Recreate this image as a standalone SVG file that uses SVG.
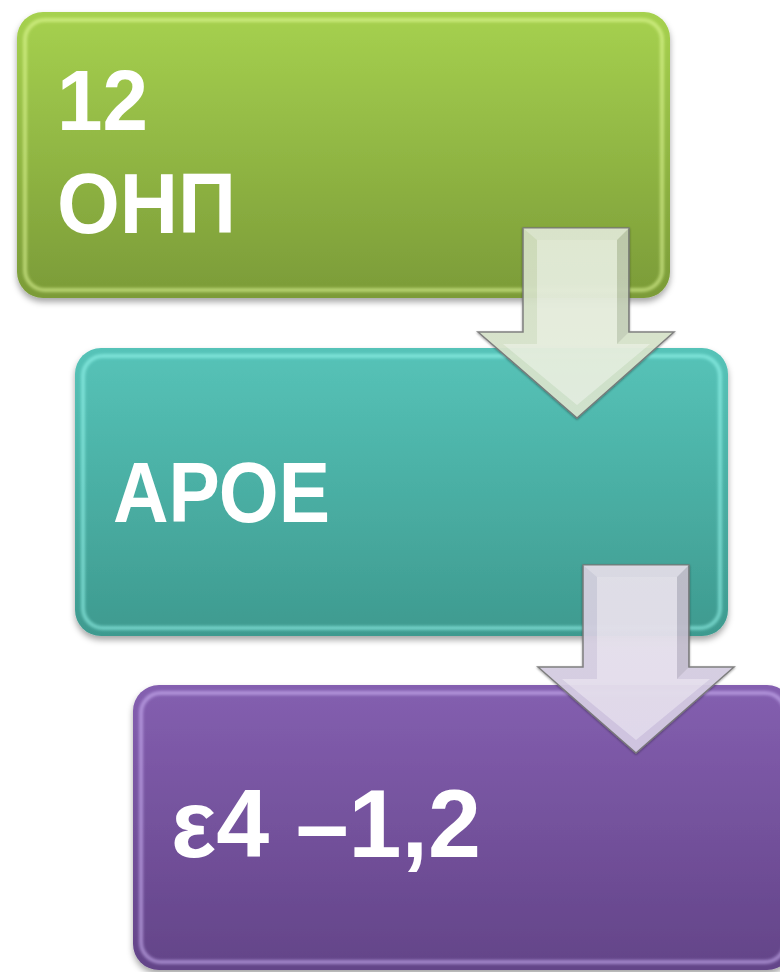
<svg xmlns="http://www.w3.org/2000/svg" width="780" height="972" viewBox="0 0 780 972">
<defs>
<linearGradient id="gGreen" x1="0" y1="0" x2="0" y2="1">
<stop offset="0" stop-color="#a6d14f"/><stop offset="1" stop-color="#7b9b38"/>
</linearGradient>
<linearGradient id="gTeal" x1="0" y1="0" x2="0" y2="1">
<stop offset="0" stop-color="#56c3b8"/><stop offset="1" stop-color="#3e9a8f"/>
</linearGradient>
<linearGradient id="gPurple" x1="0" y1="0" x2="0" y2="1">
<stop offset="0" stop-color="#845fb0"/><stop offset="1" stop-color="#634488"/>
</linearGradient>
<linearGradient id="aGreen" x1="0" y1="0" x2="0" y2="1">
<stop offset="0" stop-color="#d4e0c2"/><stop offset="1" stop-color="#dbe8d2"/>
</linearGradient>
<linearGradient id="aPurple" x1="0" y1="0" x2="0" y2="1">
<stop offset="0" stop-color="#d7d3e0"/><stop offset="1" stop-color="#d6cce6"/>
</linearGradient>
<filter id="shadow" x="-10%" y="-10%" width="120%" height="125%">
<feDropShadow dx="0" dy="4" stdDeviation="3" flood-color="#000" flood-opacity="0.35"/>
</filter>
<filter id="soft" x="-5%" y="-5%" width="110%" height="110%">
<feGaussianBlur stdDeviation="1.5"/>
</filter>
<filter id="ashadow" x="-20%" y="-20%" width="140%" height="140%">
<feDropShadow dx="0" dy="1" stdDeviation="1" flood-color="#000" flood-opacity="0.4"/>
</filter>
</defs>
<style>
.lbl{fill:#ffffff;font-weight:bold}
.cal{font-family:"Liberation Sans",Arial,sans-serif}
.ari{font-family:"Liberation Sans",Arial,sans-serif}
.hl{fill:none;stroke-width:4;opacity:0.55}
.arrow{stroke:#7a7a7a;stroke-width:1.5;opacity:0.92}
.bevel{fill:#ffffff;opacity:0.35}
</style>

<g id="node1">
<rect x="17" y="12" width="653" height="286" rx="26" fill="url(#gGreen)" filter="url(#shadow)"/>
<rect x="25" y="20" width="637" height="270" rx="20" class="hl" stroke="#e8ffa0" filter="url(#soft)"/>
<text class="lbl cal" x="57" y="130" font-size="86" textLength="91" lengthAdjust="spacingAndGlyphs">12</text>
<text class="lbl cal" x="57" y="233" font-size="86" textLength="179" lengthAdjust="spacingAndGlyphs">ОНП</text>
</g>

<g id="node2">
<rect x="75" y="348" width="653" height="288" rx="26" fill="url(#gTeal)" filter="url(#shadow)"/>
<rect x="83" y="356" width="637" height="272" rx="20" class="hl" stroke="#9ffff5" filter="url(#soft)"/>
<text class="lbl cal" x="113" y="522" font-size="86" textLength="217" lengthAdjust="spacingAndGlyphs">АРОЕ</text>
</g>

<g id="node3">
<rect x="133" y="685" width="660" height="285" rx="26" fill="url(#gPurple)" filter="url(#shadow)"/>
<rect x="141" y="693" width="644" height="269" rx="20" class="hl" stroke="#d8c0ff" filter="url(#soft)"/>
<text class="lbl ari" x="171" y="857" font-size="97" textLength="310" lengthAdjust="spacingAndGlyphs">ε4 –1,2</text>
</g>

<g id="connectors">
<g id="arrow1" filter="url(#ashadow)">
<path class="arrow" fill="url(#aGreen)" d="M523,228 H629 V332 H674 L577,418 L478,332 H523 Z"/>
<path class="bevel" d="M537,240 H617 V344 H650 L577,405 L503,344 H537 Z"/>
<path fill="#ffffff" opacity="0.25" d="M523,228 H629 L617,240 H537 Z"/>
<path fill="#000000" opacity="0.08" d="M629,228 V332 L617,344 V240 Z"/>
</g>
<g id="arrow2" filter="url(#ashadow)">
<path class="arrow" fill="url(#aPurple)" d="M583,565 H689 V667 H734 L636,753 L538,667 H583 Z"/>
<path class="bevel" d="M597,577 H677 V679 H710 L636,740 L562,679 H597 Z"/>
<path fill="#ffffff" opacity="0.25" d="M583,565 H689 L677,577 H597 Z"/>
<path fill="#000000" opacity="0.08" d="M689,565 V667 L677,679 V577 Z"/>
</g>
</g>
</svg>
